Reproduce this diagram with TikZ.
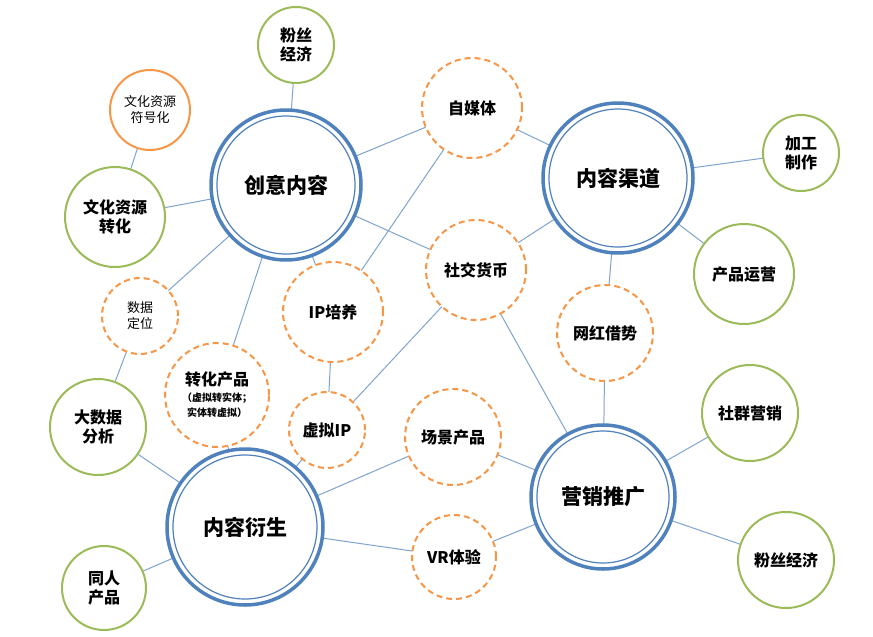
\documentclass[tikz,border=0pt]{standalone}
\usepackage{fontspec}
\setmainfont{Noto Sans CJK SC}
\usetikzlibrary{backgrounds}
\definecolor{bl}{HTML}{4F81BD}
\definecolor{gr}{HTML}{9BBB59}
\definecolor{orr}{HTML}{F79646}
\definecolor{ln}{HTML}{7FA3CE}
\begin{document}
\begin{tikzpicture}[x=1pt,y=-1pt,
  big/.style={circle,draw=bl,line width=3.5pt,fill=white,minimum size=#1,inner sep=0pt,font=\bfseries\fontsize{21}{24}\selectfont},
  grn/.style={circle,draw=gr,line width=2pt,fill=white,minimum size=#1,inner sep=0pt,align=center,font=\bfseries\fontsize{16}{19}\selectfont},
  dsh/.style={circle,draw=orr,line width=2pt,dash pattern=on 6pt off 4pt,fill=white,minimum size=#1,inner sep=0pt,align=center,font=\bfseries\fontsize{16}{19}\selectfont},
  edge/.style={ln,line width=1pt}]
\useasboundingbox (0,0) rectangle (873,637);
\node[big=150] (cy) at (286,185) {创意内容};
\node[big=150] (qd) at (618,178) {内容渠道};
\node[big=156] (ys) at (245,527) {内容衍生};
\node[big=144] (yx) at (603,497) {营销推广};
\foreach \n/\r in {cy/69,qd/69,ys/72,yx/66} \draw[bl,line width=1.2pt] (\n.center) circle (\r);
\node[grn=76] (fs1) at (296,45) {粉丝\\经济};
\node[circle,draw=orr,line width=2pt,fill=white,minimum size=80,align=center,font=\fontsize{13}{16}\selectfont] (fh) at (150,110) {文化资源\\符号化};
\node[grn=100] (zh) at (115,217) {文化资源\\转化};
\node[dsh=100] (zm) at (472,108) {自媒体};
\node[grn=76] (jg) at (801,153) {加工\\制作};
\node[grn=100] (yy) at (744,274) {产品运营};
\node[dsh=100] (sj) at (476,270) {社交货币};
\node[dsh=76,font=\fontsize{13}{16}\selectfont] (dw) at (140,316) {数据\\定位};
\node[dsh=100] (ip) at (333,312) {IP培养};
\node[dsh=96] (wh) at (605,333) {网红借势};
\node[dsh=104] (zc) at (217,395) {转化产品\\[-3pt]{\fontsize{10}{11}\selectfont （虚拟转实体；}\\[-4pt]{\fontsize{10}{11}\selectfont 实体转虚拟）}};
\node[grn=96] (dsj) at (98,427) {大数据\\分析};
\node[dsh=76] (xn) at (327,430) {虚拟IP};
\node[dsh=96] (cj) at (453,437) {场景产品};
\node[grn=96] (sq) at (750,413) {社群营销};
\node[dsh=84] (vr) at (454,557) {VR体验};
\node[grn=84] (tr) at (104,588) {同人\\产品};
\node[grn=96] (fs2) at (786,560) {粉丝经济};
\begin{scope}[on background layer]
\foreach \a/\b in {fs1/cy,fh/zh,zh/cy,cy/zm,zm/qd,zm/ip,cy/sj,cy/dw,cy/zc,cy/ip,sj/qd,sj/xn,sj/yx,qd/jg,qd/yy,qd/wh,wh/yx,dw/dsj,dsj/ys,zc/ys,ip/xn,xn/ys,cj/ys,cj/yx,yx/sq,yx/fs2,ys/vr,vr/yx,ys/tr}
  \draw[edge] (\a.center) -- (\b.center);
\end{scope}
\end{tikzpicture}
\end{document}
